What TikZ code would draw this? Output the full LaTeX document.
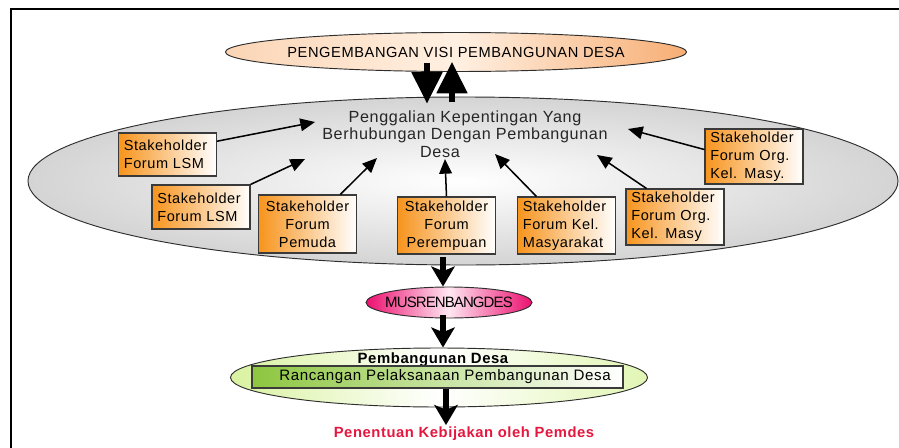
\documentclass[tikz,border=0pt]{standalone}
\usepackage{fontspec}
\setmainfont{Liberation Sans}
\newfontfamily\spaced[LetterSpace=4]{Liberation Sans}
\newfontfamily\tight[LetterSpace=-6]{Liberation Sans}
\usetikzlibrary{shapes.geometric,arrows.meta,calc}
\definecolor{orng}{HTML}{F7941D}
\definecolor{boxline}{HTML}{3A3A3A}
\definecolor{ovalline}{HTML}{2E2E2E}
\definecolor{visil}{HTML}{FBD5B5}
\definecolor{visim}{HTML}{FFF0E2}
\definecolor{visir}{HTML}{F7AE74}
\definecolor{grayin}{HTML}{FFFFFF}
\definecolor{grayout}{HTML}{D4D4D4}
\definecolor{pinkend}{HTML}{EC1070}
\definecolor{pinkmid}{HTML}{FFE6F1}
\definecolor{lgreenl}{HTML}{D9F2A0}
\definecolor{lgreenr}{HTML}{E2F6B4}
\definecolor{dgreen}{HTML}{8DC63F}
\definecolor{redtext}{HTML}{E5173F}

\begin{document}
\begin{tikzpicture}[x=0.03cm, y=-0.03cm,
    oval/.style={ellipse, draw=ovalline, line width=0.8pt, inner sep=0pt},
    box/.style={rectangle, draw=boxline, line width=0.9pt,
                left color=orng, right color=white,
                minimum width=2.94cm, text width=2.62cm, inner xsep=0.16cm,
                inner ysep=0pt, font=\spaced\fontsize{12.4pt}{15.2pt}\selectfont},
    feed/.style={-{Triangle[width=0.38cm,length=0.44cm]}, line width=1.3pt},
    flow/.style={-{Stealth[width=0.7cm,length=0.6cm,inset=0.14cm]}, line width=4.3pt},
    bigflow/.style={-{Triangle[width=0.9cm,length=0.94cm]}, line width=4.3pt},
]
\useasboundingbox (0,0) rectangle (899,447);
\begin{scope}
  \clip (0,0) rectangle (899,447);
  \draw[line width=1.7pt] (11,9) rectangle (920,470);
\end{scope}

% top
\node[oval, minimum width=13.83cm, minimum height=1.17cm,
      left color=visil, right color=visir, middle color=visim] (visi) at (456,52) {};
\node[font=\spaced\fontsize{12.5pt}{14pt}\selectfont] (visitxt) at (visi) {PENGEMBANGAN VISI PEMBANGUNAN DESA};

% big grey oval
\node[oval, minimum width=26.1cm, minimum height=5.04cm,
      inner color=grayin, outer color=grayout] (gali) at (463,181) {};
\node[align=center, text=black!85, font=\spaced\fontsize{13.8pt}{15pt}\selectfont] (kep) at (465,134)
  {Penggalian Kepentingan Yang\\Berhubungan Dengan Pembangunan\\Desa\hspace*{1.5cm}};

\coordinate (in1) at (315,122);
\coordinate (in2) at (305,159);
\coordinate (in3) at (377,158);
\coordinate (in4) at (445,159);
\coordinate (in5) at (495,154);
\coordinate (in6) at (597,155);
\coordinate (in7) at (628,129);

% stakeholder boxes
\node[box, minimum height=1.29cm] (lsma) at (167.5,154.5) {Stakeholder\\Forum LSM};
\node[box, minimum height=1.32cm] (lsmb) at (201,207) {Stakeholder\\Forum LSM};
\node[box, minimum height=1.74cm, minimum width=2.91cm, align=center] (pemuda) at (307.5,224) {Stakeholder\\Forum\\Pemuda};
\node[box, minimum height=1.71cm, align=center] (perempuan) at (446.5,225.5) {Stakeholder\\Forum\\Perempuan};
\node[box, minimum height=1.71cm] (kelmas) at (566.5,225.5) {Stakeholder\\Forum Kel.\\Masyarakat};
\node[box, minimum height=1.68cm] (orga) at (675,217) {Stakeholder\\Forum Org.\\Kel. Masy};
\node[box, minimum height=1.65cm] (orgb) at (754,156.5) {Stakeholder\\Forum Org.\\Kel. Masy.};

\draw[feed] (lsma.15) -- (in1);
\draw[feed] (lsmb.north east) -- (in2);
\draw[feed] (pemuda.42) -- (in3);
\draw[feed] (perempuan.north) -- (in4);
\draw[feed] (kelmas.136) -- (in5);
\draw[feed] (orga.135) -- (in6);
\draw[feed] (orgb.172) -- (in7);

% top arrows
\draw[bigflow] ($(visi.south)+(-29,-9)$) -- ($(gali.north)+(-36,7)$);
\draw[bigflow] ($(gali.north)+(-11,5)$) -- ($(visi.south)+(-4,-10)$);

% lower part
\node[oval, minimum width=4.98cm, minimum height=0.93cm,
      left color=pinkend, right color=pinkend, middle color=pinkmid] (musren) at (449,302.5) {};
\node[font=\tight\fontsize{12.8pt}{14pt}\selectfont] (musrentxt) at (musren) {MUSRENBANGDES};

\node[oval, minimum width=12.51cm, minimum height=1.77cm,
      left color=lgreenl, right color=lgreenr, middle color=white] (green) at (439,377.5) {};
\node[font=\spaced\bfseries\fontsize{12.7pt}{14pt}\selectfont] (pdes) at (433,360) {Pembangunan Desa};
\node[rectangle, draw=boxline, line width=0.9pt, left color=dgreen, right color=white,
      minimum width=11.13cm, minimum height=0.66cm, inner sep=0pt,
      font=\spaced\fontsize{12.9pt}{14pt}\selectfont] (rpd) at (437.5,377) {\hspace{0.45cm}Rancangan Pelaksanaan Pembangunan Desa};

\node[text=redtext, font=\spaced\bfseries\fontsize{12.6pt}{14pt}\selectfont, inner sep=2pt] (pemdes) at (464,433.5) {Penentuan Kebijakan oleh Pemdes};

\draw[flow] ($(gali.south)+(-20,-8)$) -- ($(musren.north)+(-6,0)$);
\draw[flow] ($(musren.south)+(-6,-3)$) -- ($(green.north)+(4,0)$);
\draw[flow] ($(rpd.south)+(8.5,0)$) -- ($(pemdes.north)+(-18,1)$);

\end{tikzpicture}
\end{document}
